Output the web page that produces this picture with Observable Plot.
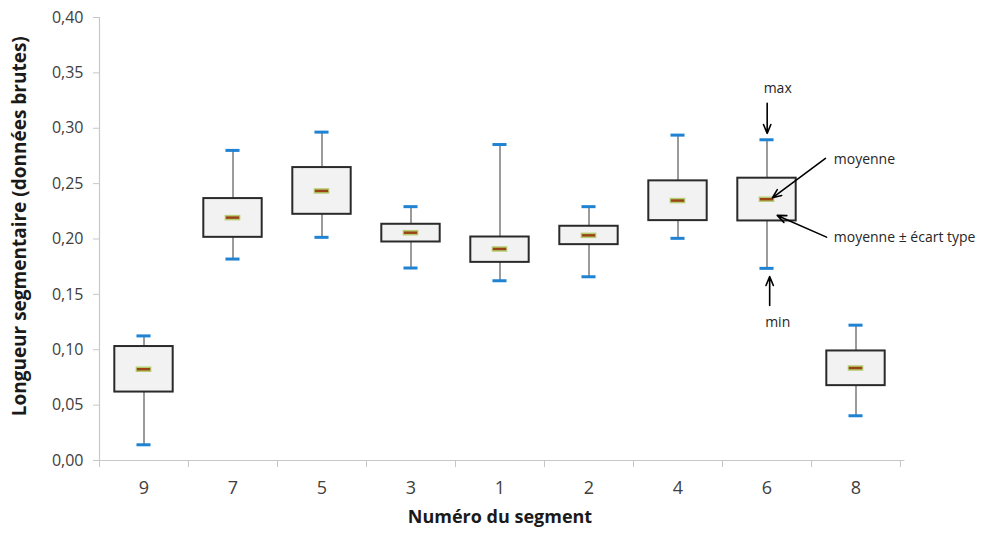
<!DOCTYPE html>
<html>
<head>
<meta charset="utf-8">
<script src="https://cdn.jsdelivr.net/npm/d3@7"></script>
<script src="https://cdn.jsdelivr.net/npm/@observablehq/plot@0.6"></script>
<style>
  html, body { margin: 0; padding: 0; background: #fff; }
  #chart { width: 985px; height: 534px; }
</style>
</head>
<body>
<div id="chart"></div>
<script>
// Data
const segments = ["9", "7", "5", "3", "1", "2", "4", "6", "8"];
const maxValues   = [0.1125, 0.2800, 0.2965, 0.2292, 0.2853, 0.2292, 0.2938, 0.2896, 0.1222];
const upperValues = [0.1029, 0.2365, 0.2645, 0.2133, 0.2018, 0.2115, 0.2525, 0.2549, 0.0989];
const meanValues  = [0.0824, 0.2193, 0.2434, 0.2057, 0.1910, 0.2033, 0.2347, 0.2359, 0.0835];
const lowerValues = [0.0618, 0.2015, 0.2223, 0.1973, 0.1789, 0.1949, 0.2166, 0.2163, 0.0676];
const minValues   = [0.0142, 0.1819, 0.2015, 0.1738, 0.1623, 0.1659, 0.2006, 0.1735, 0.0404];
const yTicks = [0, 0.05, 0.10, 0.15, 0.20, 0.25, 0.30, 0.35, 0.40];

const xTitle = "Numéro du segment";
const yTitle = "Longueur segmentaire (données brutes)";

// Annotation texts and anchors (data coordinates)
const annotations = [
  {text: "max", x: 7.62, y: 0.336, anchor: "middle"},
  {text: "min", x: 7.62, y: 0.1247, anchor: "middle"},
  {text: "moyenne", x: 8.25, y: 0.2715, anchor: "start"},
  {text: "moyenne ± écart type", x: 8.25, y: 0.2015, anchor: "start"}
];
const arrows = [
  {x1: 7.502, y1: 0.3225, x2: 7.502, y2: 0.2954},
  {x1: 7.53, y1: 0.1400, x2: 7.53, y2: 0.1660},
  {x1: 8.157, y1: 0.2728, x2: 7.56, y2: 0.2372},
  {x1: 8.169, y1: 0.2017, x2: 7.615, y2: 0.2213}
];

const table = segments.map((s, i) => ({
  seg: s, xc: i + 0.5,
  max: maxValues[i], upper: upperValues[i], mean: meanValues[i],
  lower: lowerValues[i], min: minValues[i]
}));

const font = "'Open Sans', 'Liberation Sans', sans-serif";
const boxHalf = 0.328, capHalf = 0.079;

const chart = Plot.plot({
  width: 985,
  height: 534,
  marginLeft: 99,
  marginRight: 85,
  marginTop: 17,
  marginBottom: 74,
  style: {fontFamily: font, background: "#fff", overflow: "visible"},
  x: {type: "linear", domain: [0, 9], axis: null},
  y: {domain: [0, 0.40], axis: null},
  marks: [
    // Y axis
    Plot.ruleX([0], {y1: 0, y2: 0.40, stroke: "#c8c8c8", strokeWidth: 1.2}),
    Plot.axisY({
      ticks: yTicks, tickSize: 6, tickPadding: 10, stroke: "#c8c8c8",
      tickFormat: d => d3.format(".2f")(d).replace(".", ","),
      fontSize: 16, fill: "#404040", label: null
    }),
    // X axis
    Plot.ruleY([0], {x1: 0, x2: 9.05, stroke: "#c8c8c8", strokeWidth: 1.2}),
    Plot.axisX({
      ticks: d3.range(0, 10), tickSize: 7, stroke: "#c8c8c8",
      tickFormat: () => "", label: null
    }),
    Plot.axisX({
      ticks: table.map(d => d.xc), tickSize: 0, tickPadding: 21,
      tickFormat: v => segments[Math.round(v - 0.5)],
      fontSize: 18, fill: "#404040", label: null
    }),
    // whiskers
    Plot.ruleX(table, {x: "xc", y1: "min", y2: "max", stroke: "#7a7a7a", strokeWidth: 1.5}),
    // boxes (mean ± sd)
    Plot.rect(table, {
      x1: d => d.xc - boxHalf, x2: d => d.xc + boxHalf,
      y1: "lower", y2: "upper",
      fill: "#f2f2f2", stroke: "#2a2a2a", strokeWidth: 2
    }),
    // min / max caps
    Plot.ruleY(table, {y: "max", x1: d => d.xc - capHalf, x2: d => d.xc + capHalf, stroke: "#1f82d2", strokeWidth: 3}),
    Plot.ruleY(table, {y: "min", x1: d => d.xc - capHalf, x2: d => d.xc + capHalf, stroke: "#1f82d2", strokeWidth: 3}),
    // mean marker
    Plot.ruleY(table, {y: "mean", x1: d => d.xc - 0.088, x2: d => d.xc + 0.088, stroke: "#b5cd72", strokeWidth: 5.5}),
    Plot.ruleY(table, {y: "mean", x1: d => d.xc - 0.075, x2: d => d.xc + 0.075, stroke: "#9a4416", strokeWidth: 2.5}),
    // annotations
    Plot.arrow(arrows, {x1: "x1", y1: "y1", x2: "x2", y2: "y2", stroke: "#000", strokeWidth: 1.6, headLength: 9, headAngle: 45}),
    Plot.text(annotations.filter(a => a.anchor === "middle"), {x: "x", y: "y", text: "text", textAnchor: "middle", fontSize: 14, fill: "#262626"}),
    Plot.text(annotations.filter(a => a.anchor === "start"), {x: "x", y: "y", text: "text", textAnchor: "start", fontSize: 14, fill: "#262626"}),
    // axis titles
    Plot.text([xTitle], {frameAnchor: "bottom", dy: 62, fontSize: 18, fontWeight: "bold", fill: "#1a1a1a"}),
    Plot.text([yTitle], {x: () => -0.89, y: () => 0.2115, rotate: -90, fontSize: 19, fontWeight: "bold", fill: "#1a1a1a"})
  ]
});

document.getElementById("chart").appendChild(chart);
</script>
</body>
</html>
